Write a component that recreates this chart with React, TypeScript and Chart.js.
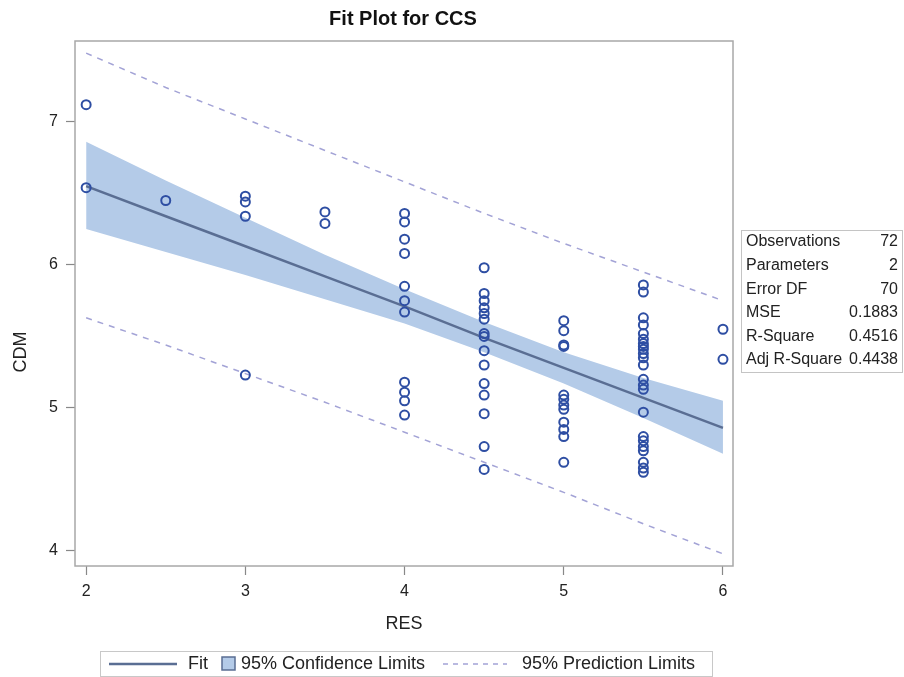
import React, { useEffect, useRef } from "react";
import { Chart, registerables } from "chart.js";

Chart.register(...registerables);

// Fit curve and limits, read at RES values
const fitRES = [2, 2.5, 3, 3.5, 4, 4.5, 5, 5.5, 6];
const fitCDM = [6.55, 6.34, 6.13, 5.92, 5.71, 5.49, 5.28, 5.07, 4.86];
const confUpper = [6.86, 6.59, 6.33, 6.07, 5.83, 5.6, 5.39, 5.21, 5.05];
const confLower = [6.25, 6.09, 5.93, 5.76, 5.59, 5.39, 5.17, 4.93, 4.68];
const predUpper = [7.48, 7.24, 7.02, 6.8, 6.58, 6.36, 6.15, 5.95, 5.75];
const predLower = [5.63, 5.44, 5.24, 5.04, 4.83, 4.62, 4.41, 4.19, 3.98];

// Observations
const obsRES = [
  2, 2,
  2.5,
  3, 3, 3, 3,
  3.5, 3.5,
  4, 4, 4, 4, 4, 4, 4, 4, 4, 4, 4,
  4.5, 4.5, 4.5, 4.5, 4.5, 4.5, 4.5, 4.5, 4.5, 4.5, 4.5, 4.5, 4.5, 4.5, 4.5,
  5, 5, 5, 5, 5, 5, 5, 5, 5, 5, 5, 5,
  5.5, 5.5, 5.5, 5.5, 5.5, 5.5, 5.5, 5.5, 5.5, 5.5, 5.5, 5.5, 5.5, 5.5, 5.5, 5.5, 5.5, 5.5, 5.5, 5.5, 5.5, 5.5, 5.5,
  6, 6,
];
const obsCDM = [
  7.12, 6.54,
  6.45,
  6.48, 6.44, 6.34, 5.23,
  6.37, 6.29,
  6.36, 6.3, 6.18, 6.08, 5.85, 5.75, 5.67, 5.18, 5.11, 5.05, 4.95,
  5.98, 5.8, 5.75, 5.7, 5.66, 5.62, 5.52, 5.5, 5.4, 5.3, 5.17, 5.09, 4.96, 4.73, 4.57,
  5.61, 5.54, 5.44, 5.43, 5.09, 5.06, 5.02, 4.99, 4.9, 4.85, 4.8, 4.62,
  5.86, 5.81, 5.63, 5.58, 5.52, 5.48, 5.45, 5.43, 5.41, 5.38, 5.35, 5.3, 5.2, 5.16, 5.13, 4.97, 4.8, 4.77, 4.73, 4.7, 4.62, 4.58, 4.55,
  5.55, 5.34,
];

const xTicks = [2, 3, 4, 5, 6];
const yTicks = [4, 5, 6, 7];

const statLabels = ["Observations", "Parameters", "Error DF", "MSE", "R-Square", "Adj R-Square"];
const statValues = ["72", "2", "70", "0.1883", "0.4516", "0.4438"];

const titleText = "Fit Plot for CCS";
const xTitle = "RES";
const yTitle = "CDM";
const legendLabels = ["Fit", "95% Confidence Limits", "95% Prediction Limits"];

const FONT = "'Liberation Sans', Arial, Helvetica, sans-serif";
const FIT_COLOR = "#5a6e93";
const BAND_COLOR = "#b4cbe8";
const PRED_COLOR = "#a3a3d6";
const POINT_COLOR = "#2e4ea3";
const FRAME_COLOR = "#a8a8a8";

const toXY = (xs: number[], ys: number[]) => xs.map((x, i) => ({ x, y: ys[i] }));

const decorPlugin = {
  id: "decor",
  afterDraw(chart: any) {
    const { ctx, chartArea } = chart;
    const { left, top, right, bottom } = chartArea;
    ctx.save();
    // frame
    ctx.strokeStyle = FRAME_COLOR;
    ctx.lineWidth = 1.5;
    ctx.strokeRect(left, top, right - left, bottom - top);

    ctx.fillStyle = "#111";
    // title
    ctx.font = `bold 20px ${FONT}`;
    ctx.textAlign = "center";
    ctx.textBaseline = "middle";
    ctx.fillText(titleText, 403, 19);

    // axis titles
    ctx.font = `18px ${FONT}`;
    ctx.fillStyle = "#222";
    ctx.fillText(xTitle, (left + right) / 2, 624);
    ctx.save();
    ctx.translate(21, 352);
    ctx.rotate(-Math.PI / 2);
    ctx.fillText(yTitle, 0, 0);
    ctx.restore();

    // stats table
    ctx.strokeStyle = "#c4c4c4";
    ctx.lineWidth = 1;
    ctx.strokeRect(741.5, 230.5, 161, 142);
    ctx.font = `16px ${FONT}`;
    ctx.fillStyle = "#222";
    statLabels.forEach((lab, i) => {
      const y = 242 + i * 23.6;
      ctx.textAlign = "left";
      ctx.fillText(lab, 746, y);
      ctx.textAlign = "right";
      ctx.fillText(statValues[i], 898, y);
    });

    // legend
    const ly = 664;
    ctx.strokeStyle = "#c8c8c8";
    ctx.lineWidth = 1;
    ctx.strokeRect(100.5, 651.5, 612, 25);
    ctx.strokeStyle = FIT_COLOR;
    ctx.lineWidth = 2.5;
    ctx.beginPath();
    ctx.moveTo(109, ly);
    ctx.lineTo(177, ly);
    ctx.stroke();
    ctx.font = `18px ${FONT}`;
    ctx.fillStyle = "#222";
    ctx.textAlign = "left";
    ctx.fillText(legendLabels[0], 188, ly);
    ctx.fillStyle = BAND_COLOR;
    ctx.fillRect(222, 657, 13, 13);
    ctx.strokeStyle = FIT_COLOR;
    ctx.lineWidth = 1.5;
    ctx.strokeRect(222, 657, 13, 13);
    ctx.fillStyle = "#222";
    ctx.fillText(legendLabels[1], 241, ly);
    ctx.strokeStyle = PRED_COLOR;
    ctx.lineWidth = 1.5;
    ctx.setLineDash([5, 5]);
    ctx.beginPath();
    ctx.moveTo(443, ly);
    ctx.lineTo(507, ly);
    ctx.stroke();
    ctx.setLineDash([]);
    ctx.fillText(legendLabels[2], 522, ly);
    ctx.restore();
  },
};

export default function App() {
  const ref = useRef<HTMLCanvasElement>(null);

  useEffect(() => {
    if (!ref.current) return;
    const chart = new Chart(ref.current, {
      type: "scatter",
      data: {
        datasets: [
          {
            label: "obs",
            data: toXY(obsRES, obsCDM),
            showLine: false,
            pointStyle: "circle",
            pointRadius: 4.5,
            pointBorderWidth: 2,
            pointBorderColor: POINT_COLOR,
            pointBackgroundColor: "rgba(0,0,0,0)",
            order: 0,
          } as any,
          {
            label: "fit",
            data: toXY(fitRES, fitCDM),
            showLine: true,
            borderColor: FIT_COLOR,
            borderWidth: 2.5,
            pointRadius: 0,
            order: 1,
          },
          {
            label: "predUpper",
            data: toXY(fitRES, predUpper),
            showLine: true,
            borderColor: PRED_COLOR,
            borderWidth: 1.5,
            borderDash: [6, 6],
            pointRadius: 0,
            order: 2,
          },
          {
            label: "predLower",
            data: toXY(fitRES, predLower),
            showLine: true,
            borderColor: PRED_COLOR,
            borderWidth: 1.5,
            borderDash: [6, 6],
            pointRadius: 0,
            order: 2,
          },
          {
            label: "confLower",
            data: toXY(fitRES, confLower),
            showLine: true,
            borderWidth: 0,
            borderColor: "rgba(0,0,0,0)",
            pointRadius: 0,
            order: 3,
          },
          {
            label: "confUpper",
            data: toXY(fitRES, confUpper),
            showLine: true,
            borderWidth: 0,
            borderColor: "rgba(0,0,0,0)",
            backgroundColor: BAND_COLOR,
            fill: 4,
            pointRadius: 0,
            order: 3,
          } as any,
        ],
      },
      options: {
        responsive: false,
        animation: false,
        devicePixelRatio: 1,
        layout: { padding: { left: 0, top: 41, right: 171, bottom: 0 } },
        plugins: {
          legend: { display: false },
          tooltip: { enabled: false },
          title: { display: false },
        },
        scales: {
          x: {
            type: "linear",
            min: 1.93,
            max: 6.063,
            afterFit: (s: any) => {
              s.height = 111;
            },
            afterBuildTicks: (s: any) => {
              s.ticks = xTicks.map((v) => ({ value: v }));
            },
            grid: {
              display: true,
              drawOnChartArea: false,
              drawTicks: true,
              tickLength: 9,
              tickWidth: 1.2,
              tickColor: "#888",
            },
            border: { display: false },
            ticks: {
              padding: 7,
              color: "#222",
              font: { family: FONT, size: 16 },
              maxRotation: 0,
            },
          },
          y: {
            type: "linear",
            min: 3.895,
            max: 7.565,
            afterFit: (s: any) => {
              s.width = 75;
            },
            afterBuildTicks: (s: any) => {
              s.ticks = yTicks.map((v) => ({ value: v }));
            },
            grid: {
              display: true,
              drawOnChartArea: false,
              drawTicks: true,
              tickLength: 9,
              tickWidth: 1.2,
              tickColor: "#888",
            },
            border: { display: false },
            ticks: {
              padding: 8,
              color: "#222",
              font: { family: FONT, size: 16 },
            },
          },
        },
      } as any,
      plugins: [decorPlugin],
    });
    return () => chart.destroy();
  }, []);

  return (
    <div style={{ position: "fixed", left: 0, top: 0, width: 904, height: 677, background: "#fff" }}>
      <canvas ref={ref} width={904} height={677} style={{ display: "block" }} />
    </div>
  );
}
